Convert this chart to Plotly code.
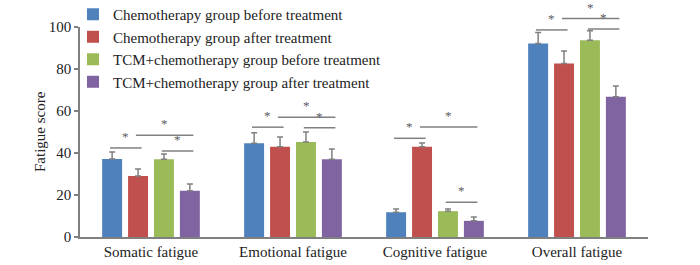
import plotly.graph_objects as go

categories = ["Somatic fatigue", "Emotional fatigue", "Cognitive fatigue", "Overall fatigue"]

series_names = [
    "Chemotherapy group before treatment",
    "Chemotherapy group after treatment",
    "TCM+chemotherapy group before treatment",
    "TCM+chemotherapy group after treatment",
]
chemo_before = [37.1, 44.7, 11.8, 92.2]
chemo_before_err = [3.4, 4.9, 1.5, 5.2]
chemo_after = [29.0, 43.0, 43.0, 82.6]
chemo_after_err = [3.4, 4.6, 1.8, 6.0]
tcm_before = [37.0, 45.2, 12.3, 93.7]
tcm_before_err = [2.5, 4.8, 1.0, 4.5]
tcm_after = [22.0, 37.0, 7.7, 66.8]
tcm_after_err = [3.2, 4.9, 1.8, 5.1]

# significance brackets: (category index, from bar, to bar, height)
sig_brackets = [
    (0, 0, 1, 42.4), (0, 1, 3, 48.5), (0, 2, 3, 41.0),
    (1, 0, 1, 52.3), (1, 1, 3, 57.0), (1, 2, 3, 52.0),
    (2, 0, 1, 47.0), (2, 1, 3, 52.4), (2, 2, 3, 16.6),
    (3, 0, 1, 98.6), (3, 1, 3, 104.0), (3, 2, 3, 99.0),
]

y_ticks = [0, 20, 40, 60, 80, 100]
y_title = "Fatigue score"

colors = ["#4F81BD", "#C0504D", "#9BBB59", "#8064A2"]
values = [chemo_before, chemo_after, tcm_before, tcm_after]
errors = [chemo_before_err, chemo_after_err, tcm_before_err, tcm_after_err]

FONT = "Liberation Serif"
TXT = "#222222"
GRAY = "#808080"
BARGAP = 0.27
BARGROUPGAP = 0.23
YMAX = 100

fig = go.Figure()
for i in range(4):
    fig.add_trace(go.Bar(
        x=list(range(len(categories))), y=values[i], name=series_names[i],
        marker=dict(color=colors[i], line=dict(width=0)),
        error_y=dict(type="data", symmetric=False, array=errors[i],
                     arrayminus=[0] * len(categories), color=GRAY,
                     thickness=1.5, width=3),
    ))

slot = (1 - BARGAP) / 4

def bar_center(cat, idx):
    return cat + (idx - 1.5) * slot

shapes = []
annotations = []
for cat, a, b, h in sig_brackets:
    x0 = bar_center(cat, a) - 0.015
    x1 = bar_center(cat, b) + 0.025
    yd = h / YMAX
    shapes.append(dict(type="line", xref="x", yref="y domain", x0=x0, x1=x1,
                       y0=yd, y1=yd, line=dict(color=GRAY, width=1.5)))
    annotations.append(dict(x=(x0 + x1) / 2, y=yd, xref="x", yref="y domain",
                            text="*", showarrow=False, yanchor="bottom",
                            yshift=2,
                            font=dict(family=FONT, size=13, color="#5a5a62")))

# y-axis title placed as rotated text
annotations.append(dict(x=-0.0704, y=0.5, xref="paper", yref="paper",
                        text=y_title, showarrow=False, textangle=-90,
                        xanchor="center", yanchor="middle",
                        font=dict(family=FONT, size=15, color=TXT)))

fig.update_layout(
    width=700, height=265,
    margin=dict(l=80, r=52, t=27, b=28, autoexpand=False),
    paper_bgcolor="white", plot_bgcolor="white",
    barmode="group", bargap=BARGAP, bargroupgap=BARGROUPGAP,
    font=dict(family=FONT, size=15, color=TXT),
    showlegend=True,
    legend=dict(x=-0.0123, y=1.138, xanchor="left", yanchor="top",
                bgcolor="rgba(0,0,0,0)",
                font=dict(family=FONT, size=15, color=TXT),
                itemwidth=30),
    xaxis=dict(tickmode="array", tickvals=list(range(len(categories))),
               ticktext=categories, range=[-0.5, 3.5], showline=True,
               linecolor=GRAY, linewidth=1.5, showgrid=False, zeroline=False,
               ticks="", automargin=False,
               tickfont=dict(family=FONT, size=15, color=TXT)),
    yaxis=dict(range=[0, YMAX], tickvals=y_ticks,
               showgrid=False, zeroline=False, showline=True,
               linecolor=GRAY, linewidth=1.5, automargin=False,
               ticks="outside", ticklen=4, tickcolor=GRAY, tickwidth=1.5,
               tickfont=dict(family=FONT, size=15, color=TXT)),
    shapes=shapes, annotations=annotations,
)

fig.write_html(
    "out.html",
    config={"displayModeBar": False},
    post_script="document.body.style.margin='0';document.body.style.overflow='hidden';",
)
